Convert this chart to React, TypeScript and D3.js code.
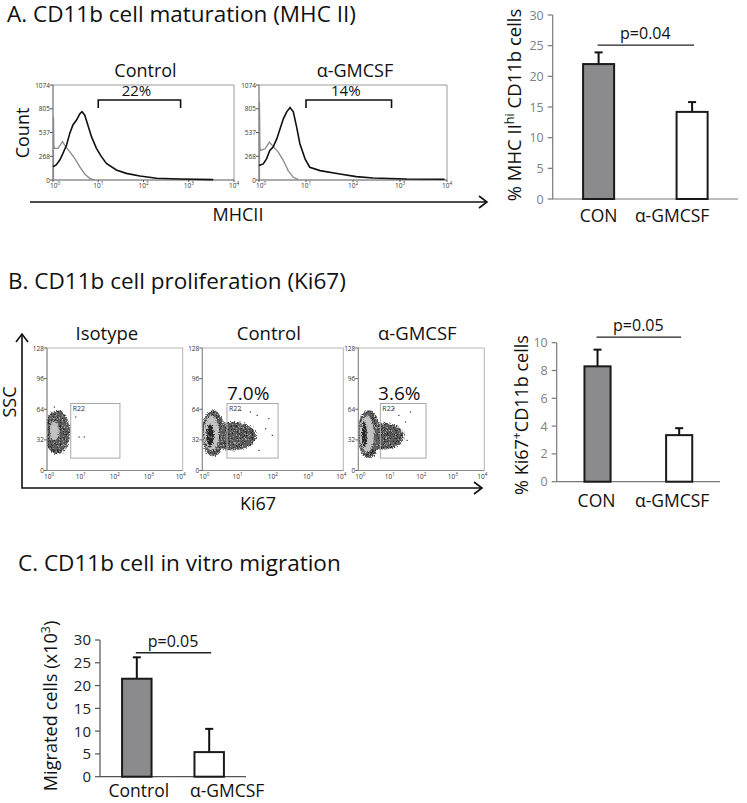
import { line, scaleBand, scaleLinear, scaleLog, select, Selection } from 'd3';
import { useEffect, useRef } from 'react';

type G = Selection<SVGGElement, unknown, null, undefined>;

const FONT = '"Open Sans", "Liberation Sans", sans-serif';

// ---- panel A : MHCII histograms, points are [log10 MHCII, count]
const conStained = [
  [0.0, 150], [0.07, 170], [0.15, 226], [0.22, 301], [0.3, 396], [0.37, 527], [0.44, 622],
  [0.52, 678], [0.59, 746], [0.64, 772], [0.7, 735], [0.77, 622], [0.85, 490], [0.96, 358],
  [1.07, 264], [1.18, 188], [1.4, 113], [1.62, 75], [1.92, 45], [2.29, 19], [2.8, 11], [3.54, 4]
];
const conIsotype = [
  [0.01, 0], [0.01, 716], [0.02, 380], [0.04, 358], [0.11, 358], [0.21, 433], [0.28, 377],
  [0.37, 320], [0.48, 245], [0.59, 151], [0.7, 68], [0.81, 19], [0.92, 0]
];
const gmStained = [
  [0.0, 163], [0.09, 182], [0.16, 239], [0.23, 334], [0.3, 372], [0.38, 467], [0.45, 581],
  [0.52, 694], [0.59, 770], [0.66, 820], [0.73, 770], [0.8, 600], [0.87, 410], [0.98, 239],
  [1.08, 144], [1.3, 106], [1.72, 68], [2.07, 38], [2.43, 23], [3.14, 11], [3.95, 8]
];
const gmIsotype = [
  [0.01, 0], [0.01, 884], [0.02, 360], [0.04, 334], [0.13, 353], [0.22, 429], [0.3, 380],
  [0.41, 315], [0.52, 220], [0.62, 106], [0.73, 30], [0.84, 4]
];
const histTitles = ['Control', 'α-GMCSF'];
const histGatePct = ['22%', '14%'];
const histGateLog = [1.0, 2.82];
const countTicks = [0, 268, 537, 805, 1074];
const decades = [0, 1, 2, 3, 4];

// ---- panel B : Ki67 vs SSC dot plots
// density areas: [log10 Ki67 centre, SSC centre, half width (decades), half height (SSC), density level]
const isoDensity = [
  [0.3, 40, 0.38, 23, 1],
  [0.22, 41, 0.13, 10, 2]
];
const conDensity = [
  [0.85, 36, 0.68, 15, 1],
  [0.3, 39, 0.33, 24, 1],
  [0.26, 39, 0.22, 18, 2],
  [0.22, 36, 0.11, 12, 3]
];
const gmDensity = [
  [0.78, 36, 0.66, 14, 1],
  [0.33, 38, 0.36, 25, 1],
  [0.27, 38, 0.23, 19, 2],
  [0.19, 38, 0.08, 14, 3]
];
// stray events outside the main cloud: [log10 Ki67, SSC]
const isoStray = [[0.93, 35.6], [1.08, 35.6], [0.83, 56.5], [0.2, 66.9]];
const conStray = [
  [1.87, 54.8], [1.97, 37.3], [1.54, 58.2], [1.78, 44.3], [1.59, 21.6], [1.35, 61.7],
  [1.07, 63.5], [1.45, 32.1]
];
const gmStray = [[1.64, 61.7], [1.48, 51.2], [1.53, 32.1], [1.27, 58.2], [1.11, 65.2], [1.38, 39.1]];
const dotTitles = ['Isotype', 'Control', 'α-GMCSF'];
const dotPct = ['', '7.0%', '3.6%'];
const sscTicks = [0, 32, 64, 96, 128];
const gateKi67 = [0.7, 2.15];
const gateSsc = [13, 70];

// ---- bar charts
const barGroups = ['CON', 'α-GMCSF'];
const mhcMeans = [22.0, 14.2];
const mhcErrs = [1.9, 1.6];
const mhcTicks = [0, 5, 10, 15, 20, 25, 30];
const ki67Means = [8.3, 3.35];
const ki67Errs = [1.2, 0.5];
const ki67Ticks = [0, 2, 4, 6, 8, 10];
const migGroups = ['Control', 'α-GMCSF'];
const migMeans = [21.5, 5.4];
const migErrs = [4.7, 5.1];
const migTicks = [0, 5, 10, 15, 20, 25, 30];
const pLabels = ['p=0.04', 'p=0.05', 'p=0.05'];
const pLevels = [25.1, 10.4, 27.2];

function supText(g: G, x: number, y: number, base: string, sup: string, size: number, color: string) {
  const t = g
    .append('text')
    .attr('x', x)
    .attr('y', y)
    .attr('text-anchor', 'middle')
    .attr('font-family', FONT)
    .attr('font-size', size)
    .attr('fill', color);
  t.append('tspan').text(base);
  t.append('tspan').attr('dy', -size * 0.4).attr('font-size', size * 0.72).text(sup);
}

function arrowHead(g: G, x: number, y: number, dir: 'right' | 'up') {
  const pts =
    dir === 'right'
      ? [[x - 8, y - 6], [x, y], [x - 8, y + 6]]
      : [[x - 6, y + 8], [x, y], [x + 6, y + 8]];
  g.append('path')
    .attr('d', line()(pts as [number, number][]))
    .attr('fill', 'none')
    .attr('stroke', '#111')
    .attr('stroke-width', 1.6);
}

function drawHist(
  root: G,
  box: { l: number; r: number; t: number; b: number },
  stained: number[][],
  isotype: number[][],
  i: number
) {
  const g = root.append('g');
  const x = scaleLog().domain([1, 1e4]).range([box.l, box.r]);
  const y = scaleLinear().domain([0, 1074]).range([box.b, box.t]);
  const path = line<number[]>()
    .x((d) => x(10 ** d[0]))
    .y((d) => y(d[1]));

  g.append('path')
    .attr('d', `M${box.l},${box.t}H${box.r}V${box.b}`)
    .attr('fill', 'none')
    .attr('stroke', '#9a9a9a')
    .attr('stroke-width', 1);
  g.append('path')
    .attr('d', `M${box.l},${box.t}V${box.b}H${box.r}`)
    .attr('fill', 'none')
    .attr('stroke', '#555')
    .attr('stroke-width', 1);

  countTicks.forEach((c) => {
    g.append('line')
      .attr('x1', box.l - 3)
      .attr('x2', box.l)
      .attr('y1', y(c))
      .attr('y2', y(c))
      .attr('stroke', '#555');
    g.append('text')
      .attr('x', box.l - 3)
      .attr('y', y(c) + 2.5)
      .attr('text-anchor', 'end')
      .attr('font-family', FONT)
      .attr('font-size', 6.5)
      .attr('fill', '#333')
      .text(c);
  });
  decades.forEach((d) => {
    g.append('line')
      .attr('x1', x(10 ** d))
      .attr('x2', x(10 ** d))
      .attr('y1', box.b)
      .attr('y2', box.b + 2)
      .attr('stroke', '#555');
    supText(g, x(10 ** d) + (d === 0 ? 2 : 0), box.b + 8, '10', String(d), 6.5, '#333');
  });

  g.append('path')
    .datum(isotype)
    .attr('d', path)
    .attr('fill', 'none')
    .attr('stroke', '#8a8a8a')
    .attr('stroke-width', 1.3);
  g.append('path')
    .datum(stained)
    .attr('d', path)
    .attr('fill', 'none')
    .attr('stroke', '#111')
    .attr('stroke-width', 1.6);

  const gx0 = x(10 ** histGateLog[0]);
  const gx1 = x(10 ** histGateLog[1]);
  g.append('path')
    .attr('d', `M${gx0},${box.t + 23}V${box.t + 15}H${gx1}V${box.t + 23}`)
    .attr('fill', 'none')
    .attr('stroke', '#111')
    .attr('stroke-width', 1.6);
  g.append('text')
    .attr('x', (gx0 + gx1) / 2 - 3)
    .attr('y', box.t + 11)
    .attr('text-anchor', 'middle')
    .attr('font-family', FONT)
    .attr('font-size', 15)
    .attr('fill', '#111')
    .text(histGatePct[i]);
  g.append('text')
    .attr('x', (box.l + box.r) / 2 + 2)
    .attr('y', box.t - 8)
    .attr('text-anchor', 'middle')
    .attr('font-family', FONT)
    .attr('font-size', 18)
    .attr('fill', '#111')
    .text(histTitles[i]);
}

function drawDots(
  root: G,
  box: { l: number; r: number; t: number; b: number },
  density: number[][],
  stray: number[][],
  i: number
) {
  const g = root.append('g');
  const x = scaleLog().domain([1, 1e4]).range([box.l, box.r]);
  const y = scaleLinear().domain([0, 128]).range([box.b, box.t]);
  const clipId = `dotclip${i}`;
  g.append('clipPath')
    .attr('id', clipId)
    .append('rect')
    .attr('x', box.l)
    .attr('y', box.t)
    .attr('width', box.r - box.l)
    .attr('height', box.b - box.t);

  g.append('rect')
    .attr('x', box.l)
    .attr('y', box.t)
    .attr('width', box.r - box.l)
    .attr('height', box.b - box.t)
    .attr('fill', '#fff')
    .attr('stroke', '#b5b5b5')
    .attr('stroke-width', 1);

  const levelFill = ['', 'url(#speck)', '#c2c2c2', 'url(#coreSpeck)'];
  const cloud = g.append('g').attr('clip-path', `url(#${clipId})`);
  density.forEach((d) => {
    const cx = x(10 ** d[0]);
    const rx = x(10 ** (d[0] + d[2])) - cx;
    cloud
      .append('ellipse')
      .attr('cx', cx)
      .attr('cy', y(d[1]))
      .attr('rx', rx)
      .attr('ry', y(0) - y(d[3]))
      .attr('fill', levelFill[d[4]])
      .attr('filter', 'url(#grain)');
  });
  stray.forEach((d) => {
    cloud
      .append('rect')
      .attr('x', x(10 ** d[0]))
      .attr('y', y(d[1]))
      .attr('width', 1.2)
      .attr('height', 1.2)
      .attr('fill', '#333');
  });

  // gate R22
  g.append('rect')
    .attr('x', x(10 ** gateKi67[0]))
    .attr('y', y(gateSsc[1]))
    .attr('width', x(10 ** gateKi67[1]) - x(10 ** gateKi67[0]))
    .attr('height', y(gateSsc[0]) - y(gateSsc[1]))
    .attr('fill', 'none')
    .attr('stroke', '#a8a8a8')
    .attr('stroke-width', 1);
  g.append('text')
    .attr('x', x(10 ** gateKi67[0]) + 2)
    .attr('y', y(gateSsc[1]) + 7)
    .attr('font-family', FONT)
    .attr('font-size', 7)
    .attr('fill', '#333')
    .text('R22');

  g.append('path')
    .attr('d', `M${box.l},${box.t}V${box.b}H${box.r}`)
    .attr('fill', 'none')
    .attr('stroke', '#8a8a8a')
    .attr('stroke-width', 1);
  sscTicks.forEach((s) => {
    g.append('line')
      .attr('x1', box.l - 3)
      .attr('x2', box.l)
      .attr('y1', y(s))
      .attr('y2', y(s))
      .attr('stroke', '#666');
    g.append('text')
      .attr('x', box.l - 3)
      .attr('y', y(s) + 2.5)
      .attr('text-anchor', 'end')
      .attr('font-family', FONT)
      .attr('font-size', 6.5)
      .attr('fill', '#333')
      .text(s);
  });
  decades.forEach((d) => {
    supText(g, x(10 ** d) + (d === 0 ? 2 : d === 4 ? -2 : 0), box.b + 8, '10', String(d), 6.5, '#333');
  });

  g.append('text')
    .attr('x', (box.l + box.r) / 2 + (i === 0 ? -8 : -4))
    .attr('y', box.t - 8)
    .attr('text-anchor', 'middle')
    .attr('font-family', FONT)
    .attr('font-size', 18.5)
    .attr('fill', '#111')
    .text(dotTitles[i]);
  if (dotPct[i]) {
    g.append('text')
      .attr('x', x(10 ** 1.3))
      .attr('y', y(gateSsc[1]) - 4)
      .attr('text-anchor', 'middle')
      .attr('font-family', FONT)
      .attr('font-size', 19)
      .attr('fill', '#111')
      .text(dotPct[i]);
  }
}

function drawBars(
  root: G,
  opt: {
    l: number;
    r: number;
    t: number;
    b: number;
    groups: string[];
    means: number[];
    errs: number[];
    ticks: number[];
    max: number;
    pIdx: number;
    yLabel: (t: G) => void;
    tickColor: string;
    tickSize: number;
    axisColor: string;
    inner: number;
    outer: number;
    labelDy: number;
    labelShift: number[];
  }
) {
  const g = root.append('g');
  const x = scaleBand<string>()
    .domain(opt.groups)
    .range([opt.l, opt.r])
    .paddingInner(opt.inner)
    .paddingOuter(opt.outer);
  const y = scaleLinear().domain([0, opt.max]).range([opt.b, opt.t]);

  g.append('path')
    .attr('d', `M${opt.l},${opt.t}V${opt.b}H${opt.r}`)
    .attr('fill', 'none')
    .attr('stroke', opt.axisColor)
    .attr('stroke-width', 1.2);
  opt.ticks.forEach((v) => {
    g.append('line')
      .attr('x1', opt.l - 5)
      .attr('x2', opt.l)
      .attr('y1', y(v))
      .attr('y2', y(v))
      .attr('stroke', opt.axisColor)
      .attr('stroke-width', 1.2);
    g.append('text')
      .attr('x', opt.l - 9)
      .attr('y', y(v) + opt.tickSize * 0.36)
      .attr('text-anchor', 'end')
      .attr('font-family', FONT)
      .attr('font-size', opt.tickSize)
      .attr('fill', opt.tickColor)
      .text(v);
  });

  opt.groups.forEach((grp, k) => {
    const bx = x(grp) as number;
    const cx = bx + x.bandwidth() / 2;
    const top = y(opt.means[k] + opt.errs[k]);
    g.append('line')
      .attr('x1', cx)
      .attr('x2', cx)
      .attr('y1', y(opt.means[k]))
      .attr('y2', top)
      .attr('stroke', '#111')
      .attr('stroke-width', 2);
    g.append('line')
      .attr('x1', cx - 4)
      .attr('x2', cx + 4)
      .attr('y1', top)
      .attr('y2', top)
      .attr('stroke', '#111')
      .attr('stroke-width', 2);
    g.append('rect')
      .attr('x', bx)
      .attr('y', y(opt.means[k]))
      .attr('width', x.bandwidth())
      .attr('height', opt.b - y(opt.means[k]))
      .attr('fill', k === 0 ? '#8b8b8d' : '#fff')
      .attr('stroke', '#1a1a1a')
      .attr('stroke-width', 2);
    g.append('text')
      .attr('x', cx + opt.labelShift[k])
      .attr('y', opt.b + opt.labelDy)
      .attr('text-anchor', 'middle')
      .attr('font-family', FONT)
      .attr('font-size', 17.5)
      .attr('fill', '#111')
      .text(grp);
  });

  const c0 = (x(opt.groups[0]) as number) + x.bandwidth() / 2;
  const c1 = (x(opt.groups[1]) as number) + x.bandwidth() / 2;
  const py = y(pLevels[opt.pIdx]);
  g.append('line')
    .attr('x1', c0 - 1)
    .attr('x2', c1 + 2)
    .attr('y1', py)
    .attr('y2', py)
    .attr('stroke', '#222')
    .attr('stroke-width', 1.3);
  g.append('text')
    .attr('x', (c0 + c1) / 2)
    .attr('y', py - 6)
    .attr('text-anchor', 'middle')
    .attr('font-family', FONT)
    .attr('font-size', 16)
    .attr('fill', '#111')
    .text(pLabels[opt.pIdx]);

  opt.yLabel(g);
}

function rotLabel(g: G, x: number, y: number, size: number, parts: [string, boolean][]) {
  const t = g
    .append('text')
    .attr('transform', `translate(${x},${y}) rotate(-90)`)
    .attr('text-anchor', 'middle')
    .attr('font-family', FONT)
    .attr('font-size', size)
    .attr('fill', '#111');
  let up = false;
  parts.forEach(([s, sup]) => {
    const ts = t.append('tspan').text(s);
    if (sup && !up) {
      ts.attr('dy', -size * 0.38).attr('font-size', size * 0.68);
      up = true;
    } else if (!sup && up) {
      ts.attr('dy', size * 0.38);
      up = false;
    }
  });
}

function FigureSvg(): JSX.Element {
  const svgRef = useRef<SVGSVGElement | null>(null);

  useEffect(() => {
    if (svgRef.current) svgRef.current.innerHTML = '';
    const svg = select(svgRef.current);
    const defs = svg.append('defs');
    const speck = defs
      .append('pattern')
      .attr('id', 'speck')
      .attr('width', 3)
      .attr('height', 3)
      .attr('patternUnits', 'userSpaceOnUse');
    speck.append('rect').attr('width', 3).attr('height', 3).attr('fill', '#5f5f5f');
    speck.append('rect').attr('width', 1).attr('height', 1).attr('fill', '#2a2a2a');
    speck.append('rect').attr('x', 2).attr('y', 1).attr('width', 1).attr('height', 1).attr('fill', '#a0a0a0');
    speck.append('rect').attr('x', 1).attr('y', 2).attr('width', 1).attr('height', 1).attr('fill', '#444');
    const core = defs
      .append('pattern')
      .attr('id', 'coreSpeck')
      .attr('width', 3)
      .attr('height', 3)
      .attr('patternUnits', 'userSpaceOnUse');
    core.append('rect').attr('width', 3).attr('height', 3).attr('fill', '#262626');
    core.append('rect').attr('x', 1).attr('y', 2).attr('width', 1).attr('height', 1).attr('fill', '#777');
    const grain = defs
      .append('filter')
      .attr('id', 'grain')
      .attr('x', '-20%')
      .attr('y', '-20%')
      .attr('width', '140%')
      .attr('height', '140%');
    grain
      .append('feTurbulence')
      .attr('type', 'fractalNoise')
      .attr('baseFrequency', 0.9)
      .attr('numOctaves', 1)
      .attr('seed', 3)
      .attr('result', 'noise');
    grain
      .append('feDisplacementMap')
      .attr('in', 'SourceGraphic')
      .attr('in2', 'noise')
      .attr('scale', 6)
      .attr('xChannelSelector', 'R')
      .attr('yChannelSelector', 'G');

    const root = svg.append('g') as unknown as G;

    const title = (x: number, y: number, s: string) =>
      root
        .append('text')
        .attr('x', x)
        .attr('y', y)
        .attr('font-family', FONT)
        .attr('font-size', 22.5)
        .attr('fill', '#111')
        .text(s);
    title(7, 22, 'A. CD11b cell maturation (MHC II)');
    title(8, 289, 'B. CD11b cell proliferation (Ki67)');
    title(18, 571, 'C. CD11b cell in vitro migration');

    // panel A
    drawHist(root, { l: 53, r: 234, t: 85, b: 180 }, conStained, conIsotype, 0);
    drawHist(root, { l: 259, r: 447, t: 85, b: 180 }, gmStained, gmIsotype, 1);
    root.append('line').attr('x1', 30).attr('x2', 487).attr('y1', 202).attr('y2', 202).attr('stroke', '#111').attr('stroke-width', 1.6);
    arrowHead(root, 487, 202, 'right');
    root.append('text').attr('x', 238).attr('y', 221).attr('text-anchor', 'middle').attr('font-family', FONT).attr('font-size', 18).attr('fill', '#111').text('MHCII');
    root.append('text').attr('transform', 'translate(29,133) rotate(-90)').attr('text-anchor', 'middle').attr('font-family', FONT).attr('font-size', 18).attr('fill', '#111').text('Count');

    drawBars(root, {
      l: 552.7, r: 738, t: 15, b: 199, groups: barGroups, means: mhcMeans, errs: mhcErrs, ticks: mhcTicks, max: 30, pIdx: 0,
      tickColor: '#808080', tickSize: 12.5, axisColor: '#7a7a7a', inner: 0.668, outer: 0.325,
      labelDy: 23, labelShift: [0, -20],
      yLabel: (g) => rotLabel(g, 521, 105, 18.5, [['% MHC II', false], ['hi', true], [' CD11b cells', false]])
    });

    // panel B
    drawDots(root, { l: 47, r: 182.7, t: 348, b: 470.5 }, isoDensity, isoStray, 0);
    drawDots(root, { l: 202.3, r: 343.3, t: 348, b: 470.5 }, conDensity, conStray, 1);
    drawDots(root, { l: 358.3, r: 484.3, t: 348, b: 470.5 }, gmDensity, gmStray, 2);
    root.append('path').attr('d', 'M22,334V488H482').attr('fill', 'none').attr('stroke', '#111').attr('stroke-width', 1.6);
    arrowHead(root, 22, 334, 'up');
    arrowHead(root, 482, 488, 'right');
    root.append('text').attr('x', 258).attr('y', 510).attr('text-anchor', 'middle').attr('font-family', FONT).attr('font-size', 18).attr('fill', '#111').text('Ki67');
    root.append('text').attr('transform', 'translate(16,402) rotate(-90)').attr('text-anchor', 'middle').attr('font-family', FONT).attr('font-size', 18).attr('fill', '#111').text('SSC');

    drawBars(root, {
      l: 556.7, r: 720, t: 342.7, b: 481.7, groups: barGroups, means: ki67Means, errs: ki67Errs, ticks: ki67Ticks, max: 10, pIdx: 1,
      tickColor: '#808080', tickSize: 12.5, axisColor: '#7a7a7a', inner: 0.68, outer: 0.34,
      labelDy: 25, labelShift: [-1, -7],
      yLabel: (g) => rotLabel(g, 528, 415, 18, [['% Ki67', false], ['+', true], ['CD11b cells', false]])
    });

    // panel C
    drawBars(root, {
      l: 100, r: 246, t: 640, b: 776.7, groups: migGroups, means: migMeans, errs: migErrs, ticks: migTicks, max: 30, pIdx: 2,
      tickColor: '#222', tickSize: 15, axisColor: '#555', inner: 0.593, outer: 0.305,
      labelDy: 20, labelShift: [2, 18],
      yLabel: (g) => rotLabel(g, 57, 706, 18.2, [['Migrated cells (x10', false], ['3', true], [')', false]])
    });
  }, []);

  return (
    <svg
      ref={svgRef}
      width={747}
      height={803}
      style={{ position: 'absolute', left: 0, top: 0, background: '#fff' }}
    />
  );
}

export default function App(): JSX.Element {
  return <FigureSvg />;
}
